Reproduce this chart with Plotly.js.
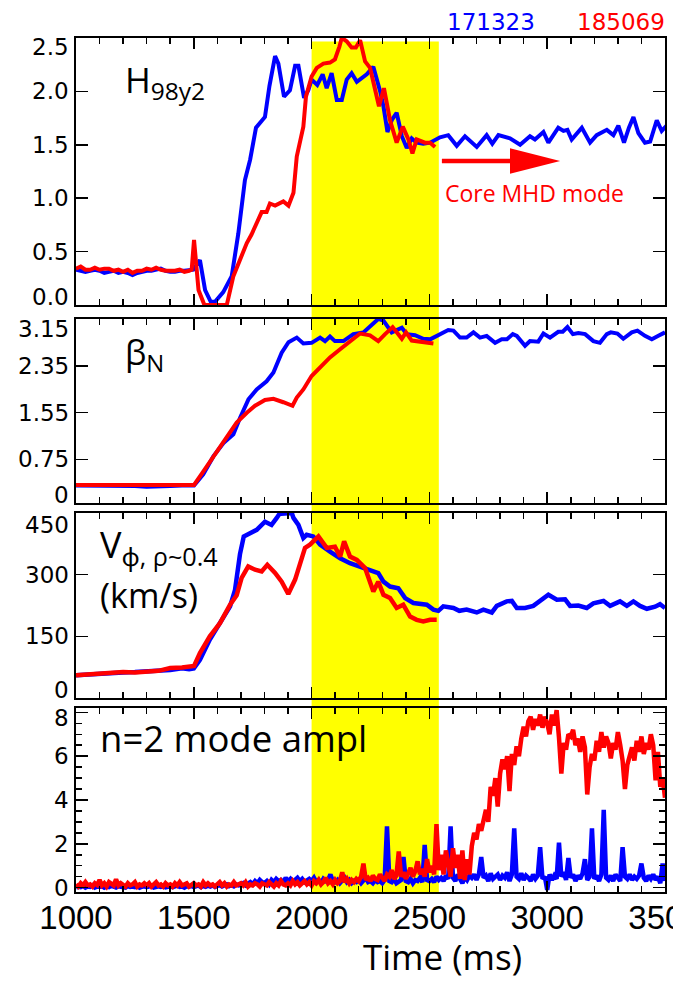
<!DOCTYPE html>
<html>
<head>
<meta charset="utf-8">
<script src="https://cdn.plot.ly/plotly-3.0.1.min.js"></script>
<style>
  html, body { margin: 0; padding: 0; background: #fff; }
  #chart { width: 673px; height: 981px; }
</style>
</head>
<body>
<div id="chart"></div>
<script>
// ---- H98y2 confinement factor ----
const h98T_171323 = [1000,1020,1040,1060,1080,1100,1120,1140,1160,1180,1200,1220,1240,1260,1280,1300,1320,1340,1360,1380,1400,1420,1440,1460,1480,1498,1526,1548,1572,1590,1625,1661,1689,1717,1739,1764,1802,1821,1845,1859,1883,1908,1930,1944,1968,1986,2000,2024,2047,2064,2085,2107,2128,2149,2170,2192,2234,2262,2291,2305,2322,2340,2361,2383,2404,2425,2446,2474,2503,2524,2545,2580,2616,2651,2701,2743,2767,2793,2842,2885,2927,2948,2984,3005,3047,3069,3086,3104,3147,3182,3210,3253,3281,3302,3326,3347,3366,3387,3415,3437,3465,3486,3507];
const h98V_171323 = [0.33,0.32,0.31,0.32,0.33,0.32,0.30,0.31,0.32,0.30,0.31,0.30,0.28,0.30,0.31,0.32,0.32,0.33,0.34,0.32,0.31,0.31,0.32,0.32,0.33,0.33,0.42,0.14,0.03,0.03,0.12,0.27,0.67,1.17,1.36,1.66,1.76,2.05,2.33,2.26,1.95,2.01,2.24,2.24,1.94,2.01,2.11,2.06,2.16,2.03,2.17,1.92,1.92,2.11,2.17,2.09,2.16,2.23,2.00,1.86,1.62,1.73,1.80,1.58,1.47,1.56,1.52,1.51,1.52,1.55,1.57,1.59,1.49,1.58,1.48,1.59,1.51,1.59,1.56,1.50,1.58,1.55,1.62,1.52,1.66,1.63,1.64,1.55,1.66,1.52,1.59,1.64,1.59,1.68,1.52,1.66,1.76,1.61,1.52,1.53,1.73,1.63,1.68];
const h98T_185069 = [1000,1020,1040,1060,1080,1100,1120,1140,1160,1180,1200,1220,1240,1260,1280,1300,1320,1340,1360,1380,1400,1420,1440,1460,1480,1491,1501,1520,1545,1600,1640,1668,1696,1725,1745,1767,1788,1809,1823,1845,1880,1902,1923,1937,1951,1965,1976,1993,2000,2022,2050,2078,2099,2118,2128,2149,2170,2188,2206,2227,2248,2265,2286,2307,2333,2361,2387,2411,2428,2446,2481,2503,2524];
const h98V_185069 = [0.34,0.36,0.33,0.33,0.35,0.33,0.34,0.34,0.32,0.33,0.31,0.33,0.30,0.32,0.32,0.34,0.33,0.35,0.33,0.32,0.32,0.32,0.33,0.31,0.32,0.33,0.61,0.14,0,0,0,0.27,0.42,0.58,0.66,0.77,0.87,0.87,0.95,0.93,0.97,0.93,1.05,1.39,1.52,1.67,1.95,2.08,2.14,2.22,2.26,2.27,2.30,2.42,2.50,2.47,2.41,2.41,2.48,2.28,2.22,2.06,1.86,2.03,1.73,1.52,1.67,1.55,1.42,1.55,1.52,1.52,1.48];

// ---- normalized beta ----
const betaT_171323 = [1000,1050,1100,1150,1200,1250,1300,1350,1400,1450,1501,1540,1583,1626,1668,1696,1732,1767,1809,1838,1873,1902,1937,1965,2000,2036,2057,2078,2099,2135,2177,2220,2248,2283,2305,2340,2383,2404,2439,2474,2503,2531,2580,2602,2630,2658,2687,2715,2743,2779,2807,2829,2854,2871,2906,2927,2962,2984,3012,3047,3066,3086,3109,3132,3161,3196,3224,3253,3270,3298,3323,3359,3383,3415,3444,3472,3500];
const betaV_171323 = [0.30,0.30,0.29,0.30,0.30,0.29,0.28,0.28,0.29,0.30,0.30,0.49,0.80,1.03,1.18,1.46,1.78,1.95,2.09,2.24,2.58,2.76,2.84,2.74,2.75,2.84,2.78,2.86,2.78,2.78,2.90,2.93,3.04,3.16,3.13,2.93,3.01,2.90,2.88,2.82,2.81,2.87,2.97,2.96,2.84,2.84,2.93,2.84,2.87,2.75,2.81,2.81,2.90,2.87,2.70,2.78,2.77,2.91,2.84,2.94,2.94,3.02,2.90,2.92,2.90,2.78,2.75,2.90,2.93,2.91,2.82,2.93,2.96,2.87,2.81,2.87,2.93];
const betaT_185069 = [1000,1050,1100,1150,1200,1250,1300,1350,1400,1450,1501,1540,1583,1640,1682,1725,1760,1802,1838,1880,1919,1937,1965,2000,2036,2078,2121,2163,2206,2248,2283,2312,2344,2383,2401,2425,2467,2517];
const betaV_185069 = [0.31,0.31,0.31,0.30,0.30,0.30,0.30,0.30,0.31,0.31,0.31,0.54,0.80,1.15,1.38,1.55,1.67,1.77,1.79,1.73,1.67,1.81,1.95,2.18,2.32,2.50,2.64,2.78,2.91,2.88,2.78,2.90,3.02,2.82,2.93,2.79,2.77,2.74];

// ---- toroidal rotation at rho ~ 0.4 (km/s) ----
const vphiT_171323 = [1000,1050,1100,1150,1200,1250,1300,1350,1400,1450,1480,1500,1526,1568,1611,1654,1675,1696,1712,1725,1767,1802,1830,1852,1866,1873,1902,1916,1923,1944,1965,1979,2007,2036,2078,2121,2163,2206,2255,2283,2305,2333,2368,2397,2432,2460,2489,2517,2538,2559,2602,2627,2658,2701,2729,2765,2786,2828,2850,2871,2906,2941,2970,3005,3041,3076,3097,3132,3168,3196,3239,3267,3309,3338,3366,3394,3423,3458,3479,3500];
const vphiV_171323 = [55,57,60,61,62,63,64,65,68,72,70,72,93,142,182,223,263,350,393,397,409,429,421,438,450,448,450,450,438,421,389,397,393,373,356,340,328,320,308,304,283,271,267,243,231,229,227,215,212,223,219,212,215,208,215,208,224,235,236,219,219,224,235,251,239,240,224,225,219,230,236,224,235,224,235,224,217,222,228,219];
const vphiT_185069 = [1000,1050,1100,1150,1200,1250,1300,1350,1400,1450,1501,1526,1568,1611,1654,1682,1703,1731,1760,1788,1812,1845,1873,1901,1930,1972,1993,2029,2064,2099,2121,2138,2163,2192,2227,2262,2283,2305,2333,2361,2389,2418,2446,2474,2503,2531];
const vphiV_185069 = [55,57,59,61,63,62,64,66,73,74,78,109,150,182,227,250,292,320,312,308,324,304,283,253,288,365,373,393,365,368,344,381,344,336,316,259,283,251,243,219,227,198,190,186,190,190];

// ---- n=2 mode amplitude, sampled every 10 ms from 1000 ms ----
const modeStart = 1000;
const modeStep = 10;
const mode_171323 = [
  0,0.05,0.02,0.08,0,0.05,0.03,0.1,0,0.05,
  0.03,0.07,0,0.05,0.02,0.08,0.04,0,0.06,0.03,
  0.05,0,0.08,0.03,0.05,0.02,0.07,0,0.04,0.06,
  0.02,0.05,0.08,0,0.04,0.06,0.03,0.07,0.01,0.05,
  0.06,0.02,0.05,0.09,0.03,0.05,0,0.07,0.04,0.08,
  0.03,0.06,0.1,0.02,0.07,0.04,0.09,0.05,0.1,0.03,
  0.08,0.12,0.05,0.1,0.15,0.07,0.12,0.06,0.15,0.1,
  0.12,0.2,0.1,0.18,0.25,0.15,0.3,0.2,0.35,0.25,
  0.2,0.3,0.15,0.35,0.25,0.4,0.3,0.35,0.2,0.45,
  0.3,0.4,0.25,0.35,0.45,0.3,0.4,0.25,0.35,0.4,
  0.3,0.45,0.25,0.35,0.2,0.4,0.3,0.35,0.6,0.3,
  0.25,0.35,0.2,0.3,0.45,0.25,0.35,0.2,0.3,0.25,
  0.35,0.2,0.3,0.45,0.25,0.3,0.2,0.35,0.25,0.3,
  0.2,0.35,2.8,0.3,0.25,0.4,0.2,0.3,0.35,1.4,
  0.3,0.25,0.4,0.2,0.35,0.3,0.45,0.25,1.95,0.35,
  0.3,0.4,0.25,0.5,0.35,0.45,0.3,0.55,0.4,2.8,
  0.45,0.3,0.6,0.4,0.2,0.5,0.35,0.55,0.45,0.6,
  0.35,0.6,1.4,0.45,0.55,0.3,0.65,0.4,0.5,0.6,
  0.35,0.55,0.45,0.7,0.3,0.6,2.7,0.5,0.4,0.65,
  0.35,0.55,0.45,0.3,0.6,0.4,0.55,1.85,0.4,0.5,
  -0.1,0.6,0.35,0.55,0.4,2.05,0.5,0.7,0.35,1.35,
  0.45,0.6,0.3,0.55,0.4,0.65,1.3,0.35,0.5,2.7,
  0.4,0.55,0.3,0.6,3.55,0.45,0.35,0.55,0.3,0.6,
  0.45,0.3,1.85,0.5,0.4,0.6,0.35,0.5,0.4,0.55,
  1.1,0.45,0.3,0.55,0.4,0.6,0.35,0.5,0.2,1.1,
  0.3
];
const mode_185069 = [
  0.15,0.05,0.2,0.1,0.25,0.1,0.15,0.05,0.2,0.12,
  0.35,0.1,0.2,0.05,0.25,0.15,0.1,0.38,0.1,0.2,
  0.15,0.05,0.2,0.1,0.15,0.25,0.05,0.15,0.1,0.2,
  0.1,0.2,0.05,0.15,0.25,0.1,0.15,0.05,0.2,0.1,
  0.15,0.05,0.2,0.1,0.25,0.1,0.15,0.2,0.05,0.15,
  0.2,0.1,0.15,0.05,0.25,0.1,0.2,0.1,0.15,0.05,
  0.15,0.25,0.1,0.2,0.05,0.15,0.1,0.25,0.1,0.15,
  0.2,0.1,0.25,0.05,0.15,0.1,0.2,0.15,0.05,0.2,
  0.15,0.1,0.25,0.15,0.05,0.2,0.1,0.3,0.15,0.1,
  0.2,0.1,0.3,0.15,0.25,0.1,0.2,0.3,0.15,0.25,
  0.1,0.3,0.2,0.35,0.15,0.25,0.45,0.2,0.3,0.15,
  0.35,0.2,0.3,0.7,0.25,0.4,0.2,0.35,0.25,0.4,
  0.3,0.5,1.1,0.35,0.45,0.3,0.55,0.4,0.35,0.6,
  0.45,0.3,0.6,0.5,0.8,0.4,0.55,1.65,0.5,0.7,
  0.4,0.6,0.9,0.5,0.75,1.2,0.6,0.85,0.5,1.3,
  0.7,1.0,0.6,2.9,0.8,1.5,0.6,1.7,1.0,0.5,
  1.8,0.9,1.5,0.4,1.7,0.35,1.3,0.6,1.9,2.5,
  2.2,2.9,2.6,3.2,3.55,3.0,4.6,4.2,5.0,3.7,
  5.2,5.85,5.4,6.0,4.4,6.1,5.6,6.45,6.0,6.8,
  7.35,6.9,7.6,7.8,7.2,7.7,7.4,7.9,7.3,7.8,
  7.5,7.0,7.9,7.4,8.1,6.85,5.2,6.6,6.3,7.0,
  6.9,7.2,6.5,6.8,6.2,6.9,6.4,4.25,5.5,6.1,
  5.8,6.7,6.2,7.1,6.4,6.9,6.6,5.9,6.6,6.3,
  7.1,6.5,5.8,4.5,5.6,6.0,6.4,5.8,6.7,6.2,
  6.9,6.1,6.6,6.3,7.0,6.5,4.9,6.2,4.6,5.0,
  4.1
];

// ---- axis ticks and labels ----
const timeTicks = [1000, 1500, 2000, 2500, 3000, 3500];
const h98Ticks = [0, 0.5, 1.0, 1.5, 2.0, 2.5];
const h98TickText = ['0.0', '0.5', '1.0', '1.5', '2.0', '2.5'];
const betaTicks = [0, 0.75, 1.55, 2.35, 3.15];
const betaTickText = ['0', '0.75', '1.55', '2.35', '3.15'];
const vphiTicks = [0, 150, 300, 450];
const vphiTickText = ['0', '150', '300', '450'];
const modeTicks = [0, 2, 4, 6, 8];
const modeTickText = ['0', '2', '4', '6', '8'];
const shotNames = ['171323', '185069'];
const windowStart = 2000, windowEnd = 2540;

const BLUE = '#0000ff', RED = '#ff0000';
const modeTime = mode_171323.map((_, i) => modeStart + i * modeStep);

function line(x, y, color, xa, ya, w) {
  return { x: x, y: y, type: 'scatter', mode: 'lines', xaxis: xa, yaxis: ya,
           line: { color: color, width: w, shape: 'linear' }, hoverinfo: 'skip', showlegend: false };
}

const traces = [
  line(h98T_171323, h98V_171323, BLUE, 'x', 'y', 4),
  line(h98T_185069, h98V_185069, RED, 'x', 'y', 4),
  line(betaT_171323, betaV_171323, BLUE, 'x2', 'y2', 4),
  line(betaT_185069, betaV_185069, RED, 'x2', 'y2', 4),
  line(vphiT_171323, vphiV_171323, BLUE, 'x3', 'y3', 4.5),
  line(vphiT_185069, vphiV_185069, RED, 'x3', 'y3', 4.5),
  line(modeTime, mode_171323, BLUE, 'x4', 'y4', 4.5),
  line(modeTime, mode_185069, RED, 'x4', 'y4', 4.5)
];

const tickFamily = 'DejaVu Sans, Arial, sans-serif';
const xTickFont = { family: 'Liberation Sans Narrow, Arial Narrow, Liberation Sans, Arial, sans-serif', size: 33, color: '#000' };
const labelFamily = 'Open Sans, Noto Sans, sans-serif';

function xAxis(anchor, labels) {
  return {
    anchor: anchor, range: [1000, 3500], tickmode: 'array', tickvals: timeTicks,
    ticks: 'inside', ticklen: 11, tickwidth: 1.5, tickcolor: '#000',
    minor: { dtick: 100, tick0: 1000, ticks: 'inside', ticklen: 6, tickwidth: 1.5, tickcolor: '#000' },
    showline: true, linewidth: 2, linecolor: '#000', mirror: 'allticks',
    showgrid: false, zeroline: false, showticklabels: labels, tickfont: xTickFont,
    ticklabelstandoff: -5, ticklabeloverflow: 'allow'
  };
}
function yAxis(anchor, domain, range, vals, minor) {
  const ax = {
    anchor: anchor, domain: domain, range: range, tickmode: 'array', tickvals: vals,
    ticks: 'inside', ticklen: 12, tickwidth: 1.5, tickcolor: '#000',
    showline: true, linewidth: 2, linecolor: '#000', mirror: 'allticks',
    showgrid: false, zeroline: false, showticklabels: false
  };
  if (minor) ax.minor = { dtick: minor, tick0: 0, ticks: 'inside', ticklen: 6, tickwidth: 1.5, tickcolor: '#000' };
  return ax;
}

// y tick labels: placed on each axis scale; the end labels are nudged inward
// so they stay inside the panel height, as in the original plotting style
function yLabels(yref, vals, text, topShift, bottomShift) {
  return vals.map((v, i) => ({
    text: text[i], xref: 'paper', yref: yref, x: 0, y: v, xanchor: 'right', yanchor: 'middle',
    xshift: -5, yshift: i === vals.length - 1 ? topShift : (i === 0 ? bottomShift : 0),
    showarrow: false, font: { family: tickFamily, size: 23, color: '#000' }
  }));
}

const annotations = [].concat(
  yLabels('y', h98Ticks, h98TickText, -9, 8),
  yLabels('y2', betaTicks, betaTickText, -9, 8),
  yLabels('y3', vphiTicks, vphiTickText, -12, 8),
  yLabels('y4', modeTicks, modeTickText, -6, 0),
  [
    { text: shotNames[0], xref: 'paper', yref: 'paper', x: 0.6265, y: 1.0191, xanchor: 'left', yanchor: 'middle',
      showarrow: false, font: { family: tickFamily, size: 23, color: BLUE } },
    { text: shotNames[1], xref: 'paper', yref: 'paper', x: 0.8472, y: 1.0191, xanchor: 'left', yanchor: 'middle',
      showarrow: false, font: { family: tickFamily, size: 23, color: RED } },
    { text: 'H<sub>98y2</sub>', xref: 'paper', yref: 'paper', x: 0.080, y: 0.9485, xanchor: 'left', yanchor: 'middle',
      showarrow: false, font: { family: labelFamily, size: 35, color: '#000' } },
    { text: 'β<sub>N</sub>', xref: 'paper', yref: 'paper', x: 0.080, y: 0.6300, xanchor: 'left', yanchor: 'middle',
      showarrow: false, font: { family: labelFamily, size: 34, color: '#000' } },
    { text: 'V<sub>ϕ, ρ~0.4</sub>', xref: 'paper', yref: 'paper', x: 0.038, y: 0.4048, xanchor: 'left', yanchor: 'middle',
      showarrow: false, font: { family: labelFamily, size: 36, color: '#000' } },
    { text: '(km/s)', xref: 'paper', yref: 'paper', x: 0.038, y: 0.3478, xanchor: 'left', yanchor: 'middle',
      showarrow: false, font: { family: labelFamily, size: 34, color: '#000' } },
    { text: 'n=2 mode ampl', xref: 'paper', yref: 'paper', x: 0.038, y: 0.180, xanchor: 'left', yanchor: 'middle',
      showarrow: false, font: { family: labelFamily, size: 36.5, color: '#000' } },
    { text: 'Core MHD mode', xref: 'paper', yref: 'paper', x: 0.6231, y: 0.8185, xanchor: 'left', yanchor: 'middle',
      showarrow: false, font: { family: labelFamily, size: 23, color: RED } },
    { text: 'Time (ms)', xref: 'paper', yref: 'paper', x: 0.6214, y: -0.0760, xanchor: 'center', yanchor: 'middle',
      showarrow: false, font: { family: labelFamily, size: 35, color: '#000' } }
  ]
);

const layout = {
  width: 673, height: 981,
  margin: { l: 76, r: 8, t: 38, b: 89 },
  paper_bgcolor: '#fff', plot_bgcolor: 'rgba(0,0,0,0)',
  showlegend: false,
  xaxis: xAxis('y', false),
  xaxis2: xAxis('y2', false),
  xaxis3: xAxis('y3', false),
  xaxis4: xAxis('y4', true),
  yaxis: yAxis('x', [0.6874, 1], [0, 2.5], h98Ticks),
  yaxis2: yAxis('x2', [0.4555, 0.6710], [0, 3.16], betaTicks),
  yaxis3: yAxis('x3', [0.2272, 0.4438], [0, 450], vphiTicks),
  yaxis4: yAxis('x4', [0, 0.2155], [-0.2, 8.2], modeTicks, 0.5),
  shapes: [
    { type: 'rect', layer: 'below', xref: 'x', yref: 'paper', x0: windowStart, x1: windowEnd, y0: 0, y1: 0.996,
      fillcolor: '#ffff00', line: { width: 0 } },
    { type: 'line', xref: 'x', yref: 'y', x0: 2553, x1: 2860, y0: 1.348, y1: 1.348,
      line: { color: RED, width: 4.5 } },
    { type: 'path', xref: 'x', yref: 'y', path: 'M 2842 1.468 L 3055 1.348 L 2842 1.228 Z',
      fillcolor: RED, line: { color: RED, width: 0 } }
  ],
  annotations: annotations
};

Plotly.newPlot('chart', traces, layout, { staticPlot: true, displayModeBar: false });
</script>
</body>
</html>
